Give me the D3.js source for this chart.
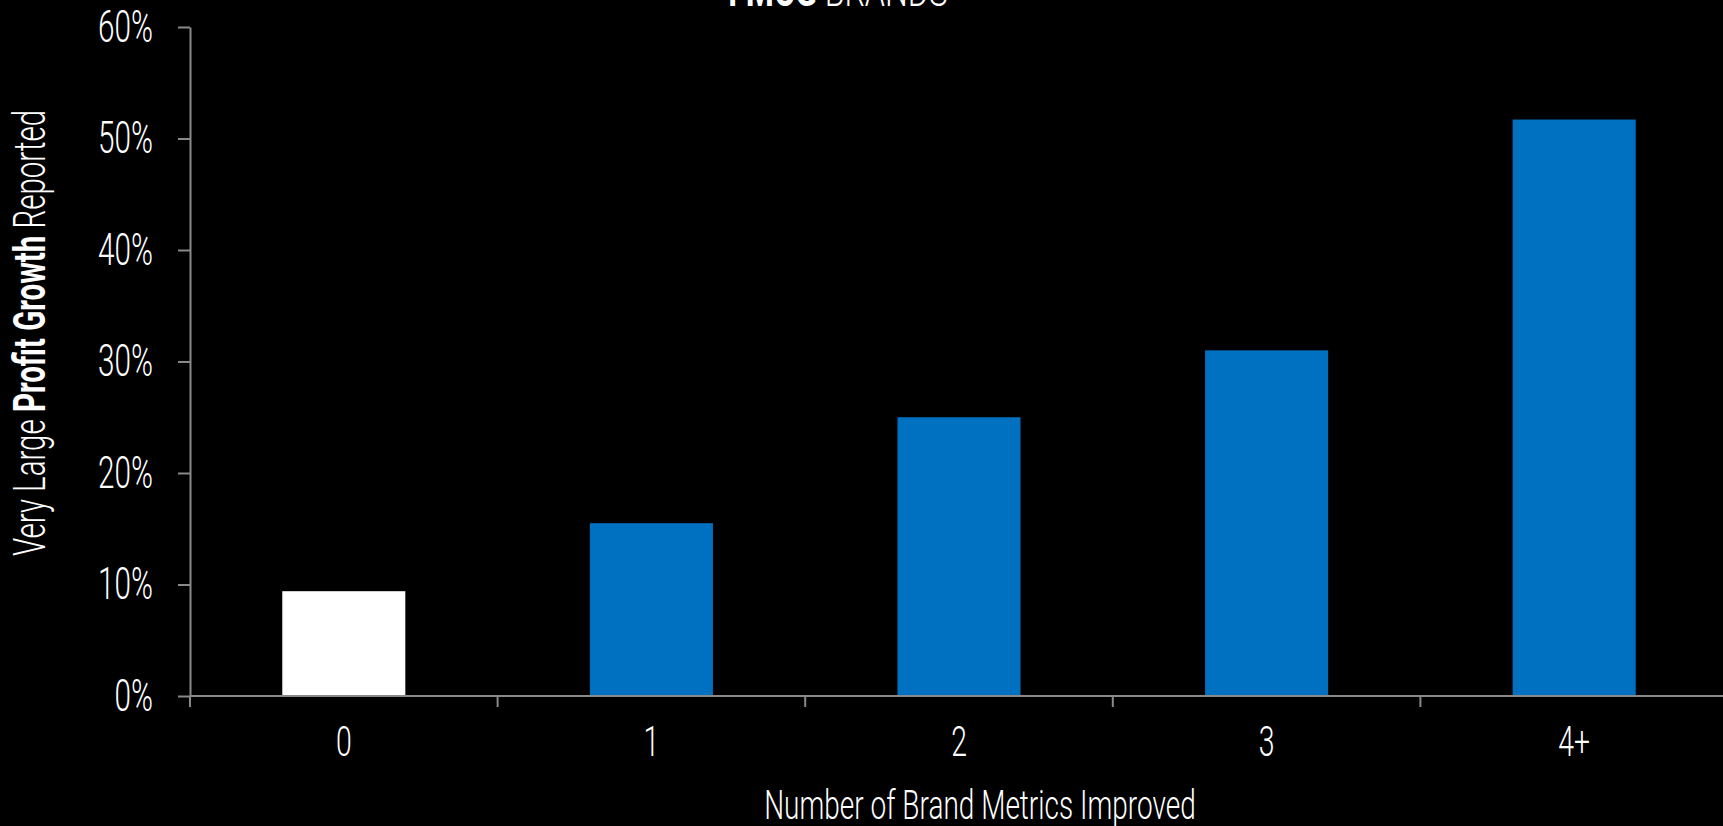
<!DOCTYPE html>
<html>
<head>
<meta charset="utf-8">
<script src="https://cdn.jsdelivr.net/npm/d3@7/dist/d3.min.js"></script>
<style>
  html, body { margin: 0; padding: 0; background: #000; }
  svg { display: block; }
  text { font-family: Roboto, "Liberation Sans", sans-serif; fill: #fff; font-weight: 300; }
</style>
</head>
<body>
<svg id="chart" width="1723" height="826"></svg>
<script>
// Share of brands reporting very large profit growth, by number of brand metrics improved
const categories = ["0", "1", "2", "3", "4+"];
const values = [0.094, 0.155, 0.25, 0.31, 0.517];
const yTicks = [0, 0.1, 0.2, 0.3, 0.4, 0.5, 0.6];
const titleParts = [["FMCG", true], [" BRANDS", false]];
const yTitleParts = [["Very Large ", false], ["Profit Growth", true], [" Reported", false]];
const xTitle = "Number of Brand Metrics Improved";

const W = 1723, H = 826;
const plotLeft = 190, plotRight = 1728, plotTop = 27, plotBottom = 696;
const axisColor = "#898989";
const blue = "#0070c0";

const svg = d3.select("#chart");
svg.append("rect").attr("width", W).attr("height", H).attr("fill", "#000");

const x = d3.scaleBand().domain(categories).range([plotLeft, plotRight])
  .paddingInner(0.6).paddingOuter(0.3);
const y = d3.scaleLinear().domain([0, 0.6]).range([plotBottom, plotTop]);

// bars
svg.append("g").selectAll("rect").data(categories).join("rect")
  .attr("x", d => x(d))
  .attr("width", x.bandwidth())
  .attr("y", (d, i) => y(values[i]))
  .attr("height", (d, i) => y(0) - y(values[i]))
  .attr("fill", (d, i) => i === 0 ? "#ffffff" : blue);

// y axis
const yAxis = svg.append("g").attr("transform", `translate(${plotLeft},0)`)
  .call(d3.axisLeft(y).tickValues(yTicks).tickFormat(d3.format(".0%"))
    .tickSize(12).tickSizeOuter(0));
yAxis.selectAll("path, line").attr("stroke", axisColor).attr("stroke-width", 2);
yAxis.selectAll("text")
  .attr("x", null)
  .attr("transform", "translate(-37,0) scale(0.66,1)")
  .attr("fill", "#fff")
  .style("font-size", "45px")
  .style("font-family", "Roboto, sans-serif")
  .style("font-weight", 300)
  .attr("text-anchor", "end");

// x axis line and category boundary ticks
const step = x.step();
const gap = step - x.bandwidth();
const boundaries = categories.map(c => x(c) - gap / 2);
svg.append("line")
  .attr("x1", plotLeft).attr("x2", W).attr("y1", plotBottom).attr("y2", plotBottom)
  .attr("stroke", axisColor).attr("stroke-width", 2);
svg.append("g").selectAll("line").data(boundaries).join("line")
  .attr("x1", d => d).attr("x2", d => d)
  .attr("y1", plotBottom).attr("y2", plotBottom + 11)
  .attr("stroke", axisColor).attr("stroke-width", 2);

// category labels
const xAxis = svg.append("g").attr("transform", `translate(0,${plotBottom})`)
  .call(d3.axisBottom(x).tickSize(0).tickPadding(0));
xAxis.select(".domain").remove();
xAxis.selectAll("text")
  .attr("y", null).attr("dy", null)
  .attr("transform", "translate(0,60) scale(0.66,1)")
  .attr("fill", "#fff")
  .style("font-size", "43px")
  .style("font-family", "Roboto, sans-serif")
  .style("font-weight", 300)
  .attr("text-anchor", "middle");

// x axis title
svg.append("text")
  .attr("transform", "translate(980,819) scale(0.70,1)")
  .attr("text-anchor", "middle")
  .style("font-size", "40px")
  .text(xTitle);

// y axis title
const yt = svg.append("text")
  .attr("transform", "translate(45,333) rotate(-90) scale(0.67,1)")
  .attr("text-anchor", "middle")
  .style("font-size", "44px");
yt.selectAll("tspan").data(yTitleParts).join("tspan")
  .attr("font-weight", d => d[1] ? 700 : 300)
  .text(d => d[0]);

// chart title (partly above the top edge)
const tt = svg.append("text")
  .attr("transform", "translate(838,6) scale(0.73,1)")
  .attr("text-anchor", "middle")
  .style("font-size", "44px");
tt.selectAll("tspan").data(titleParts).join("tspan")
  .attr("font-weight", d => d[1] ? 700 : 300)
  .text(d => d[0]);
</script>
</body>
</html>
